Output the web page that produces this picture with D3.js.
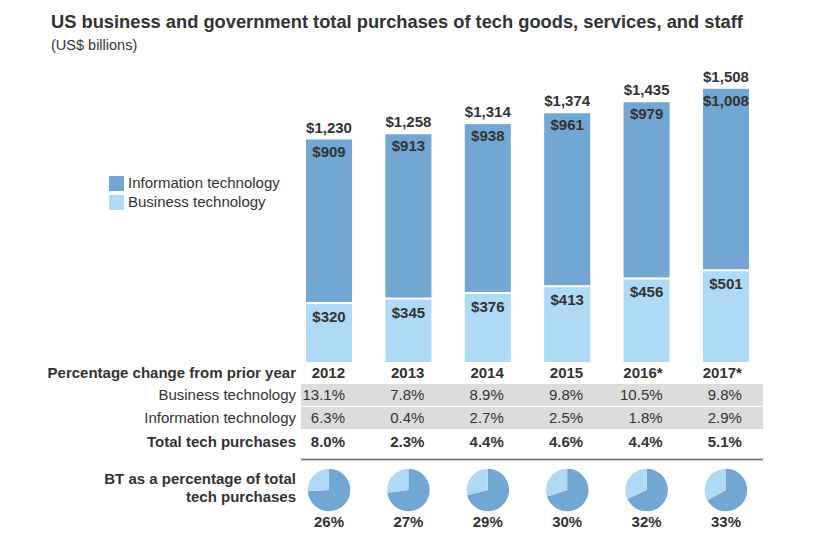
<!DOCTYPE html>
<html>
<head>
<meta charset="utf-8">
<script src="https://cdn.jsdelivr.net/npm/d3@7"></script>
<style>
  body { margin: 0; background: #fff; }
  svg { display: block; font-family: "Helvetica Neue", Helvetica, Arial, "Liberation Sans", sans-serif; }
</style>
</head>
<body>
<svg id="chart" width="835" height="546"></svg>
<script>
const years = ["2012", "2013", "2014", "2015", "2016*", "2017*"];
const itValues = [909, 913, 938, 961, 979, 1008];
const btValues = [320, 345, 376, 413, 456, 501];
const totals = [1230, 1258, 1314, 1374, 1435, 1508];
const btChange = ["13.1%", "7.8%", "8.9%", "9.8%", "10.5%", "9.8%"];
const itChange = ["6.3%", "0.4%", "2.7%", "2.5%", "1.8%", "2.9%"];
const totalChange = ["8.0%", "2.3%", "4.4%", "4.6%", "4.4%", "5.1%"];
const btShare = [26, 27, 29, 30, 32, 33];

const IT_COLOR = "#72a7d4";
const BT_COLOR = "#aedaf5";
const TEXT = "#333333";

const svg = d3.select("#chart");

const x = d3.scaleBand().domain(years).range([306, 749]).paddingInner(0.42).paddingOuter(0);
const y = d3.scaleLinear().domain([0, 1508]).range([362, 89]);
const cx = d => x(d) + x.bandwidth() / 2;

// Title
svg.append("text").attr("x", 51).attr("y", 28)
  .attr("font-size", 18.3).attr("font-weight", "bold").attr("fill", TEXT)
  .text("US business and government total purchases of tech goods, services, and staff");
svg.append("text").attr("x", 51).attr("y", 50)
  .attr("font-size", 14.5).attr("fill", TEXT)
  .text("(US$ billions)");

// Legend
const legend = [["Information technology", IT_COLOR], ["Business technology", BT_COLOR]];
legend.forEach((l, i) => {
  svg.append("rect").attr("x", 109).attr("y", 176 + i * 19).attr("width", 15).attr("height", 15).attr("fill", l[1]);
  svg.append("text").attr("x", 128).attr("y", 188 + i * 19).attr("font-size", 15).attr("fill", TEXT).text(l[0]);
});

const data = years.map((yr, i) => ({ yr, it: itValues[i], bt: btValues[i], total: totals[i] }));

// Bars
const g = svg.append("g");
g.selectAll(".bt").data(data).join("rect")
  .attr("x", d => x(d.yr)).attr("width", x.bandwidth())
  .attr("y", d => y(d.bt)).attr("height", d => y(0) - y(d.bt))
  .attr("fill", BT_COLOR);
g.selectAll(".it").data(data).join("rect")
  .attr("x", d => x(d.yr)).attr("width", x.bandwidth())
  .attr("y", d => y(d.bt + d.it)).attr("height", d => y(d.bt) - y(d.bt + d.it) - 2)
  .attr("fill", IT_COLOR);

const fmt = d3.format(",");
g.selectAll(".tl").data(data).join("text")
  .attr("x", d => cx(d.yr)).attr("y", d => y(d.bt + d.it) - 7)
  .attr("text-anchor", "middle").attr("font-size", 15).attr("font-weight", "bold").attr("fill", TEXT)
  .text(d => "$" + fmt(d.total));
g.selectAll(".il").data(data).join("text")
  .attr("x", d => cx(d.yr)).attr("y", d => y(d.bt + d.it) + 17)
  .attr("text-anchor", "middle").attr("font-size", 15).attr("font-weight", "bold").attr("fill", TEXT)
  .text(d => "$" + fmt(d.it));
g.selectAll(".bl").data(data).join("text")
  .attr("x", d => cx(d.yr)).attr("y", d => y(d.bt) + 18)
  .attr("text-anchor", "middle").attr("font-size", 15).attr("font-weight", "bold").attr("fill", TEXT)
  .text(d => "$" + fmt(d.bt));

// Table
const tableLeft = 301, tableRight = 763, labelX = 296;
svg.append("rect").attr("x", tableLeft).attr("y", 384).attr("width", tableRight - tableLeft).attr("height", 22).attr("fill", "#dcdcdc");
svg.append("rect").attr("x", tableLeft).attr("y", 407).attr("width", tableRight - tableLeft).attr("height", 22).attr("fill", "#dcdcdc");

const rows = [
  { label: "Percentage change from prior year", vals: years, bold: true, yy: 378 },
  { label: "Business technology", vals: btChange, bold: false, yy: 400 },
  { label: "Information technology", vals: itChange, bold: false, yy: 423 },
  { label: "Total tech purchases", vals: totalChange, bold: true, yy: 447 }
];
rows.forEach(r => {
  svg.append("text").attr("x", labelX).attr("y", r.yy).attr("text-anchor", "end")
    .attr("font-size", 15).attr("font-weight", r.bold ? "bold" : "normal").attr("fill", TEXT).text(r.label);
  svg.selectAll(null).data(r.vals).join("text")
    .attr("x", (d, i) => cx(years[i]) + 16).attr("y", r.yy).attr("text-anchor", "end")
    .attr("font-size", 15).attr("font-weight", r.bold ? "bold" : "normal").attr("fill", TEXT)
    .text(d => d);
});

svg.append("line").attr("x1", tableLeft).attr("x2", tableRight).attr("y1", 459.5).attr("y2", 459.5)
  .attr("stroke", "#666").attr("stroke-width", 1.5);

// Pies
svg.append("text").attr("x", labelX).attr("y", 484).attr("text-anchor", "end")
  .attr("font-size", 15).attr("font-weight", "bold").attr("fill", TEXT).text("BT as a percentage of total");
svg.append("text").attr("x", labelX).attr("y", 502).attr("text-anchor", "end")
  .attr("font-size", 15).attr("font-weight", "bold").attr("fill", TEXT).text("tech purchases");

const pie = d3.pie().sort(null).value(d => d.v);
const arc = d3.arc().innerRadius(0).outerRadius(21.3);
btShare.forEach((s, i) => {
  const pg = svg.append("g").attr("transform", `translate(${cx(years[i])},490)`);
  pg.selectAll("path").data(pie([{ v: 100 - s, c: IT_COLOR }, { v: s, c: BT_COLOR }])).join("path")
    .attr("d", arc).attr("fill", d => d.data.c);
  svg.append("text").attr("x", cx(years[i])).attr("y", 527).attr("text-anchor", "middle")
    .attr("font-size", 15).attr("font-weight", "bold").attr("fill", TEXT).text(s + "%");
});
</script>
</body>
</html>
